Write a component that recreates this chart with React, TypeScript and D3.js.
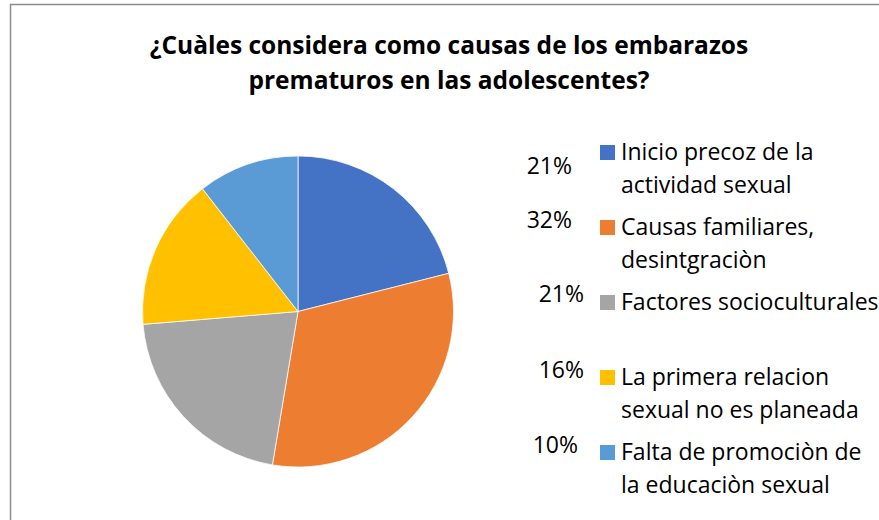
import React from "react";
import * as d3 from "d3";

const categories: string[][] = [
  ["Inicio precoz de la", "actividad sexual"],
  ["Causas familiares,", "desintgraciòn"],
  ["Factores socioculturales"],
  ["La primera relacion", "sexual no es planeada"],
  ["Falta de promociòn de", "la educaciòn sexual"],
];
const counts: number[] = [4, 6, 4, 3, 2];
const percentLabels: string[] = ["21%", "32%", "21%", "16%", "10%"];
const titleLines: string[] = [
  "¿Cuàles considera como causas de los embarazos",
  "prematuros en las adolescentes?",
];

const colors = ["#4472C4", "#ED7D31", "#A5A5A5", "#FFC000", "#5B9BD5"];
// layout of the floating percentage labels (right edge x, baseline y)
const labelLayout: [number, number][] = [
  [572, 174],
  [572, 228],
  [584, 302],
  [584, 378],
  [578, 453],
];

const FONT = "'Open Sans', sans-serif";

export default function App() {
  const W = 879;
  const H = 520;
  const cx = 298;
  const cy = 311.5;
  const r = 155.5;

  const pie = d3.pie<number>().sort(null).value((d) => d);
  const arcs = pie(counts);
  const arc = d3.arc<d3.PieArcDatum<number>>().innerRadius(0).outerRadius(r);

  const legendX = 600;
  const legendY0 = 160;
  const legendStep = 75;
  const lineH = 32.5;

  return (
    <svg
      width={W}
      height={H}
      style={{ position: "absolute", left: 0, top: 0, background: "#fff" }}
    >
      <rect x={0} y={0} width={W} height={H} fill="#fff" />
      <rect
        x={10.5}
        y={4.5}
        width={W + 20}
        height={H + 20}
        fill="#fff"
        stroke="#8c8c8c"
        strokeWidth={1.5}
      />
      {titleLines.map((t, i) => (
        <text
          key={i}
          x={449}
          y={53.5 + i * 35}
          textAnchor="middle"
          fontFamily={FONT}
          fontWeight="bold"
          fontSize={24.5}
          fill="#000"
        >
          {t}
        </text>
      ))}
      <g transform={`translate(${cx},${cy})`}>
        {arcs.map((a, i) => (
          <path
            key={i}
            d={arc(a) || ""}
            fill={colors[i]}
            stroke="#fff"
            strokeWidth={0.75}
          />
        ))}
      </g>
      {percentLabels.map((p, i) => (
        <text
          key={i}
          x={labelLayout[i][0]}
          y={labelLayout[i][1]}
          textAnchor="end"
          fontFamily={FONT}
          fontSize={23}
          fill="#000"
        >
          {p}
        </text>
      ))}
      {categories.map((lines, i) => {
        const by = legendY0 + i * legendStep;
        return (
          <g key={i}>
            <rect x={legendX} y={by - 15} width={15} height={15} fill={colors[i]} />
            {lines.map((l, j) => (
              <text
                key={j}
                x={legendX + 21}
                y={by + j * lineH}
                fontFamily={FONT}
                fontSize={23}
                fill="#000"
              >
                {l}
              </text>
            ))}
          </g>
        );
      })}
    </svg>
  );
}
